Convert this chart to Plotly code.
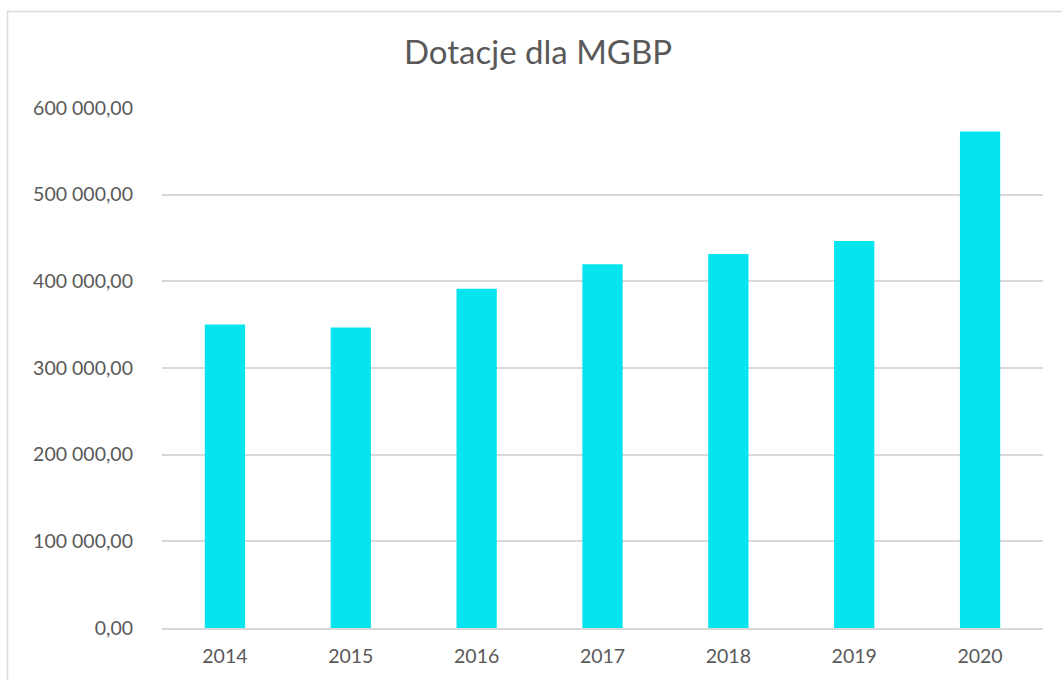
import plotly.graph_objects as go

years = ["2014", "2015", "2016", "2017", "2018", "2019", "2020"]
values = [350300, 346800, 391300, 419800, 431400, 446400, 572900]
y_ticks = [0, 100000, 200000, 300000, 400000, 500000, 600000]

fig = go.Figure(go.Bar(x=years, y=values, marker=dict(color="#06E4EE", line=dict(width=0))))

W, H = 1062, 680
L, R, T, B = 162, 19, 108, 52
pw, ph = W - L - R, H - T - B

def px_x(p):
    return (p - L) / pw

def px_y(p):
    return (H - B - p) / ph

fig.update_layout(
    width=W, height=H,
    margin=dict(l=L, r=R, t=T, b=B),
    paper_bgcolor="white", plot_bgcolor="white",
    separators=", ",
    font=dict(family="Lato, 'Open Sans', sans-serif", color="#595959", size=19.5),
    title=dict(text="Dotacje dla MGBP", x=538 / W, xref="container", xanchor="center",
               y=1 - 52 / H, yref="container", yanchor="middle",
               font=dict(size=33, color="#595959")),
    bargap=0.68,
    showlegend=False,
    shapes=[dict(type="rect", xref="paper", yref="paper",
                 x0=px_x(7.5), x1=px_x(1075), y0=px_y(11.5), y1=px_y(700),
                 line=dict(color="#D9D9D9", width=1.5), fillcolor="rgba(0,0,0,0)", layer="below")],
)
fig.update_yaxes(range=[0, 600000], tickvals=y_ticks, tickformat=",.2f",
                 showgrid=True, gridcolor="#D9D9D9", gridwidth=1.5,
                 zeroline=False, showline=False, ticks="", ticklabelstandoff=28)
fig.update_xaxes(showline=True, linecolor="#D9D9D9", linewidth=1.5, ticks="",
                 ticklabelstandoff=10, showgrid=False)

fig.write_html("out.html", config={"displayModeBar": False},
               post_script="document.body.style.margin='0';")
